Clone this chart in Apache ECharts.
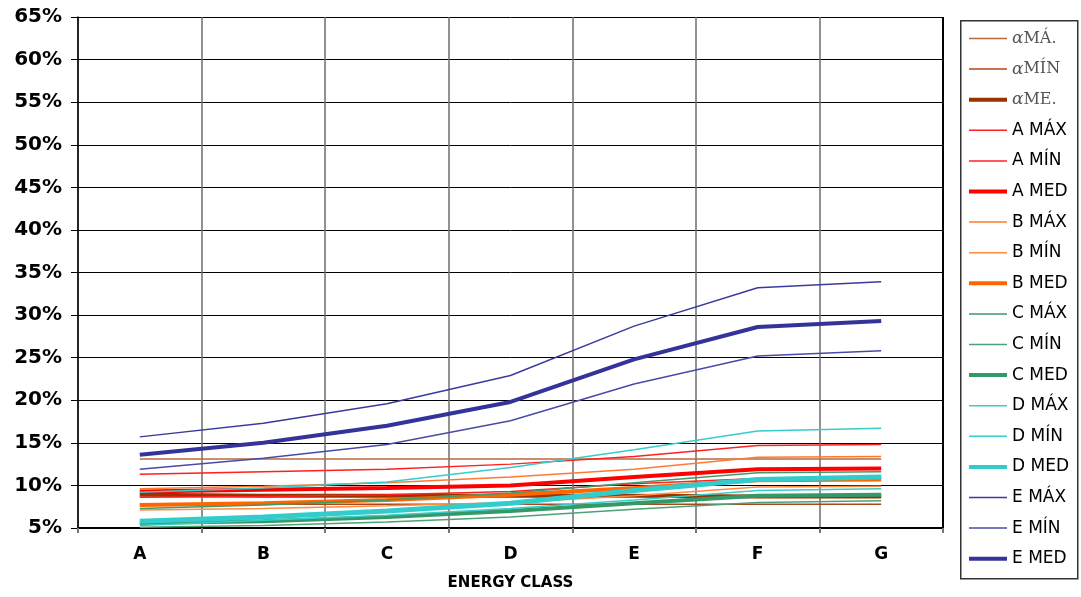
<!DOCTYPE html>
<html>
<head>
<meta charset="utf-8">
<script src="https://cdn.jsdelivr.net/npm/echarts@6/dist/echarts.min.js"></script>
<style>
html,body{margin:0;padding:0;background:#fff;}
#chart{width:1081px;height:597px;}
</style>
</head>
<body>
<div id="chart"></div>
<script>
const categories = ['A', 'B', 'C', 'D', 'E', 'F', 'G'];
const seriesNames = ['αMÁ.', 'αMÍN', 'αME.', 'A MÁX', 'A MÍN', 'A MED', 'B MÁX', 'B MÍN', 'B MED',
  'C MÁX', 'C MÍN', 'C MED', 'D MÁX', 'D MÍN', 'D MED', 'E MÁX', 'E MÍN', 'E MED'];

const alphaMax = [13.1, 13.1, 13.1, 13.1, 13.1, 13.1, 13.1];
const alphaMin = [7.8, 7.8, 7.8, 7.8, 7.8, 7.8, 7.8];
const alphaMed = [8.9, 8.8, 8.8, 8.8, 8.8, 8.7, 8.7];
const aMax = [11.3, 11.6, 11.9, 12.5, 13.4, 14.7, 14.8];
const aMin = [8.6, 8.7, 8.9, 9.3, 10.2, 10.8, 10.9];
const aMed = [9.3, 9.5, 9.7, 10.0, 11.0, 11.9, 12.0];
const bMax = [9.6, 9.9, 10.3, 11.0, 11.9, 13.3, 13.4];
const bMin = [7.1, 7.3, 7.6, 8.0, 8.8, 9.8, 9.9];
const bMed = [7.7, 7.9, 8.3, 8.9, 9.7, 10.6, 10.7];
const cMax = [7.3, 7.7, 8.3, 9.1, 10.3, 11.5, 11.6];
const cMin = [5.1, 5.3, 5.7, 6.3, 7.2, 8.0, 8.2];
const cMed = [5.6, 5.8, 6.3, 7.0, 7.9, 8.8, 8.9];
const dMax = [9.2, 9.7, 10.4, 12.1, 14.2, 16.4, 16.7];
const dMin = [5.3, 5.9, 6.5, 7.3, 8.3, 9.4, 9.6];
const dMed = [5.8, 6.3, 7.0, 7.9, 9.4, 10.7, 11.0];
const eMax = [15.7, 17.3, 19.6, 22.9, 28.7, 33.2, 33.9];
const eMin = [11.9, 13.2, 14.8, 17.6, 21.9, 25.2, 25.8];
const eMed = [13.6, 15.0, 17.0, 19.8, 24.8, 28.6, 29.3];

const seriesData = [alphaMax, alphaMin, alphaMed, aMax, aMin, aMed, bMax, bMin, bMed,
  cMax, cMin, cMed, dMax, dMin, dMed, eMax, eMin, eMed];
const seriesColors = ['#b8693e', '#a8481a', '#993300', '#ff2020', '#ff2020', '#ff0000',
  '#ff7a30', '#ff8a40', '#ff6600', '#3d9a6a', '#4aa378', '#339966',
  '#38cccc', '#38cccc', '#33cccc', '#3a3a9e', '#4a4aa8', '#333399'];
const seriesWidths = [1.5, 1.5, 4, 1.5, 1.5, 4, 1.5, 1.5, 4, 1.5, 1.5, 4, 1.5, 1.5, 5, 1.5, 1.5, 4];

const series = seriesNames.map((name, i) => ({
  name: name,
  type: 'line',
  data: seriesData[i],
  symbol: 'none',
  showSymbol: false,
  smooth: false,
  color: seriesColors[i],
  lineStyle: { color: seriesColors[i], width: seriesWidths[i] },
  emphasis: { disabled: true },
  z: 2
}));

const legendData = seriesNames.map((name, i) => ({
  name: name,
  icon: 'path://M0,0H38V' + (seriesWidths[i] > 2 ? 4 : 1.5) + 'H0Z',
  itemStyle: { color: seriesColors[i] }
}));

const chart = echarts.init(document.getElementById('chart'), null, { renderer: 'canvas' });
chart.setOption({
  animation: false,
  backgroundColor: '#ffffff',
  grid: { left: 78, right: 138, top: 17, bottom: 69, containLabel: false },
  xAxis: {
    type: 'category',
    data: categories,
    boundaryGap: true,
    name: 'ENERGY CLASS',
    nameLocation: 'middle',
    nameGap: 48,
    nameTextStyle: { fontFamily: 'DejaVu Sans', fontWeight: 'bold', fontSize: 15, color: '#000' },
    axisLine: { show: true, lineStyle: { color: '#000', width: 2 } },
    axisTick: { show: true, length: 5, lineStyle: { color: '#777', width: 2 } },
    axisLabel: { margin: 18, fontFamily: 'DejaVu Sans', fontWeight: 'bold', fontSize: 17, color: '#000' },
    splitLine: { show: true, lineStyle: { color: '#6e6e6e', width: 1.5 } }
  },
  yAxis: {
    type: 'value',
    min: 5,
    max: 65,
    interval: 5,
    axisLine: { show: true, lineStyle: { color: '#000', width: 1.5 } },
    axisTick: { show: true, length: 7, lineStyle: { color: '#000', width: 1 } },
    axisLabel: { margin: 16, formatter: '{value}%', fontFamily: 'DejaVu Sans', fontWeight: 'bold', fontSize: 20, color: '#000' },
    splitLine: { show: true, lineStyle: { color: '#000', width: 1 } }
  },
  legend: {
    orient: 'vertical',
    left: 969,
    top: 30,
    itemWidth: 38,
    itemHeight: 14,
    itemGap: 13.6,
    padding: 0,
    symbolKeepAspect: true,
    data: legendData,
    formatter: function (name) {
      if (name.charAt(0) === 'α') {
        return '{g|α}{s|' + name.slice(1) + '}';
      }
      return name;
    },
    textStyle: {
      fontFamily: 'DejaVu Sans',
      fontSize: 17,
      lineHeight: 16,
      color: '#000',
      rich: {
        g: { fontFamily: 'DejaVu Serif', fontStyle: 'italic', fontSize: 17, lineHeight: 16, color: '#555' },
        s: { fontFamily: 'DejaVu Serif', fontSize: 16, lineHeight: 16, color: '#555' }
      }
    }
  },
  graphic: [
    { type: 'rect', left: 960, top: 20, shape: { width: 117, height: 558 },
      style: { fill: 'transparent', stroke: '#333', lineWidth: 1.5 }, z: 0 },
    { type: 'line', shape: { x1: 943, y1: 17, x2: 943, y2: 528 },
      style: { stroke: '#000', lineWidth: 2 }, z: 5 }
  ],
  series: series
});
</script>
</body>
</html>
